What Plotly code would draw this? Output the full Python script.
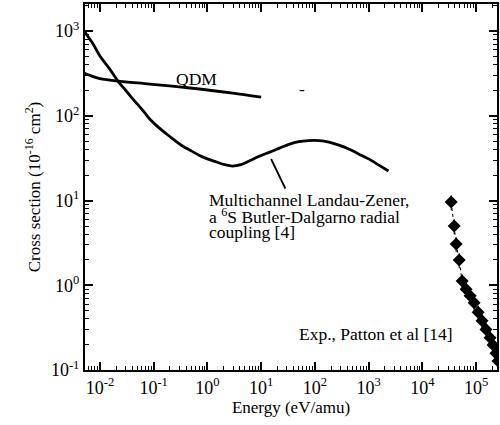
import plotly.graph_objects as go

# Multichannel Landau-Zener cross section (6S Butler-Dalgarno radial coupling)
lz_energy = [0.00506, 0.0075, 0.01, 0.015, 0.0216, 0.03, 0.0408, 0.06, 0.0843, 0.12,
             0.174, 0.25, 0.344, 0.5, 0.711, 1.0, 1.47, 2.1, 2.9, 4.2, 6.0, 9.0,
             14, 22, 33, 50, 77, 120, 182, 280, 425, 650, 1000, 1500, 2340]
lz_sigma = [1000, 700, 507, 360, 257, 200, 158, 120, 91.6, 74,
            61, 51, 44, 38.5, 34, 31, 28.5, 26.5, 25.5, 26.5, 29.3, 33,
            37, 41.5, 46, 49.5, 51, 51, 49, 45, 40.5, 35.5, 31, 26.5, 22.3]

# QDM cross section
qdm_energy = [0.00506, 0.0075, 0.01, 0.0216, 0.084, 0.71, 3.0, 10.0]
qdm_sigma = [319, 290, 275, 257, 237, 207, 185, 166]

# Experimental data, Patton et al [14]
exp_energy = [34400, 39100, 42600, 48400, 55000, 65300, 77400, 91800, 109000,
              129000, 153000, 182000, 207000, 234000, 256000]
exp_sigma = [9.6, 5.0, 3.07, 1.99, 1.12, 0.90, 0.75, 0.62, 0.48,
             0.38, 0.30, 0.24, 0.197, 0.158, 0.128]

x_tick_exps = [-2, -1, 0, 1, 2, 3, 4, 5]
x_tick_text = ["10<sup>-2</sup>", "10<sup>-1</sup>", "10<sup>0</sup>", "10<sup>1</sup>",
               "10<sup>2</sup>", "10<sup>3</sup>", "10<sup>4</sup>", "10<sup>5</sup>"]
y_tick_exps = [-1, 0, 1, 2, 3]
y_tick_text = ["10<sup>-1</sup>", "10<sup>0</sup>", "10<sup>1</sup>",
               "10<sup>2</sup>", "10<sup>3</sup>"]

FONT = "Liberation Serif"

fig = go.Figure()
fig.add_trace(go.Scatter(x=lz_energy, y=lz_sigma, mode="lines",
                         line=dict(color="black", width=2.8, shape="spline", smoothing=1.0),
                         showlegend=False))
fig.add_trace(go.Scatter(x=qdm_energy, y=qdm_sigma, mode="lines",
                         line=dict(color="black", width=2.8, shape="spline", smoothing=0.8),
                         showlegend=False))
fig.add_trace(go.Scatter(x=exp_energy, y=exp_sigma, mode="lines+markers",
                         line=dict(color="black", width=1, dash="dot"),
                         marker=dict(symbol="diamond", size=10, color="black"),
                         error_y=dict(type="percent", value=20, color="black",
                                      thickness=1, width=0),
                         showlegend=False))

minor_x = [m * 10 ** e for e in range(-3, 6) for m in range(2, 10)]
minor_y = [m * 10 ** e for e in range(-2, 4) for m in range(2, 10)]

axis_common = dict(
    showgrid=False, zeroline=False, showline=True, linecolor="black", linewidth=2,
    mirror="allticks", ticks="inside", ticklen=8, tickwidth=1.5, tickcolor="black",
    tickfont=dict(family=FONT, size=18, color="black"),
)

fig.update_xaxes(type="log", range=[-2.278, 5.389],
                 tickmode="array", tickvals=[10 ** e for e in x_tick_exps],
                 ticktext=x_tick_text,
                 minor=dict(tickmode="array", tickvals=minor_x, ticks="inside",
                            ticklen=4, tickwidth=1, tickcolor="black", showgrid=False),
                 title=dict(text="Energy (eV/amu)", font=dict(family=FONT, size=17, color="black"),
                            standoff=4),
                 **axis_common)
fig.update_yaxes(type="log", range=[-1, 3.319],
                 tickmode="array", tickvals=[10 ** e for e in y_tick_exps],
                 ticktext=y_tick_text,
                 minor=dict(tickmode="array", tickvals=minor_y, ticks="inside",
                            ticklen=4, tickwidth=1, tickcolor="black", showgrid=False),
                 title=dict(text="Cross section (10<sup>-16</sup> cm<sup>2</sup>)",
                            font=dict(family=FONT, size=17, color="black"), standoff=6),
                 **axis_common)

ann_font = dict(family=FONT, size=17.5, color="black")
annotations = [
    dict(x=-0.204, y=2.434, text="QDM", showarrow=False, font=ann_font),
    dict(x=0.0, y=(371 - 201) / 84.75 - 1, text="Multichannel Landau-Zener,",
         showarrow=False, xanchor="left", font=ann_font),
    dict(x=0.0, y=(371 - 217) / 84.75 - 1, text="a <sup>6</sup>S Butler-Dalgarno radial",
         showarrow=False, xanchor="left", font=ann_font),
    dict(x=0.0, y=(371 - 233) / 84.75 - 1, text="coupling [4]",
         showarrow=False, xanchor="left", font=ann_font),
    dict(x=3.13, y=-0.575, text="Exp., Patton et al [14]", showarrow=False, font=ann_font),
    dict(x=1.76, y=2.316, text="-", showarrow=False, font=ann_font),
    # pointer from the label to the Landau-Zener curve
    dict(x=1.185, y=1.49, text="", showarrow=True, arrowhead=0, arrowwidth=1.8,
         arrowcolor="black", ax=15, ay=31, standoff=0),
]
fig.update_layout(
    width=500, height=425,
    margin=dict(l=85, r=1, t=4, b=55),
    paper_bgcolor="white", plot_bgcolor="white",
    annotations=annotations,
)

fig.write_html("out.html")
